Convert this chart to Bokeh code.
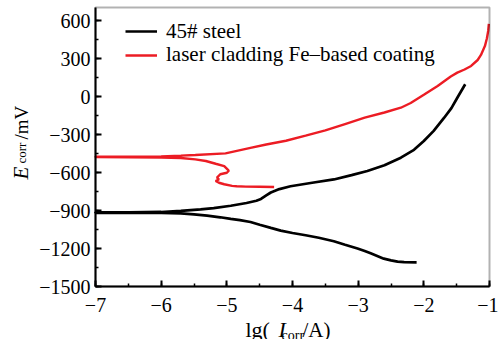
from math import pi
from bokeh.plotting import figure
from bokeh.models import (SingleIntervalTicker, CustomJSTickFormatter, Legend,
                          LegendItem, Label, BoxAnnotation)
from bokeh.embed import file_html
from bokeh.resources import INLINE

# ---- data ----
# 45# steel: cathodic branch (from its end) -> E_corr plateau -> anodic branch
steel_lgI = [-2.11, -2.30, -2.40, -2.50, -2.61, -2.81, -2.90, -3.01, -3.20, -3.37,
             -3.60, -3.80, -4.00, -4.18, -4.33, -4.50, -4.64, -4.80, -4.94, -5.10,
             -5.30, -5.50, -5.70, -6.00, -6.50, -7.00,
             -7.00, -6.50, -6.00, -5.70, -5.40, -5.20, -4.94, -4.70, -4.55, -4.48,
             -4.40, -4.33, -4.20, -4.03, -3.70, -3.37, -3.10, -2.86, -2.60, -2.35,
             -2.15, -2.00, -1.85, -1.69, -1.58, -1.49, -1.37]
steel_E = [-1309, -1308, -1304, -1294, -1280, -1238, -1220, -1200, -1170, -1142,
           -1115, -1095, -1077, -1058, -1037, -1012, -990, -976, -966, -953,
           -940, -930, -922, -919, -918, -918,
           -914, -914, -911, -903, -890, -880, -862, -840, -822, -808,
           -780, -757, -730, -708, -680, -654, -620, -587, -542, -482,
           -420, -350, -270, -166, -90, -8, 98]

# laser cladding Fe-based coating
coat_lgI = [-4.28, -4.50, -4.71, -4.85, -4.92, -5.04, -5.12, -5.17, -5.12, -5.15,
            -5.10, -5.00, -4.97, -4.99, -5.04, -5.17, -5.32, -5.48, -5.70, -6.00,
            -6.50, -7.00,
            -7.00, -6.50, -6.00, -5.70, -5.48, -5.02, -4.64, -4.40, -4.10, -3.80,
            -3.50, -3.20, -2.90, -2.60, -2.35, -2.20, -2.00, -1.79, -1.59, -1.49,
            -1.38, -1.28, -1.18, -1.13, -1.07, -1.04, -1.02, -1.01]
coat_E = [-714, -712, -711, -708, -705, -692, -680, -666, -653, -640,
          -613, -601, -585, -574, -548, -530, -508, -495, -484, -480,
          -478, -477,
          -474, -474, -472, -466, -461, -448, -405, -378, -348, -308,
          -266, -216, -166, -125, -87, -50, 15, 85, 160, 190,
          215, 243, 290, 330, 400, 460, 520, 575]

x_bounds = (-7, -1)        # axis extent of lg(I_corr/A)
y_bounds = (-1500, 705)    # axis extent of E_corr /mV
x_tick_step = 1
y_tick_step = 300
legend_labels = ["45# steel", "laser cladding Fe\u2013based coating"]

FONT = "serif"
W, H = 498, 339
# where the axis box sits on the page (pixels)
BOX_L, BOX_R, BOX_T, BOX_B = 95, 489, 7, 286

kx = (x_bounds[1] - x_bounds[0]) / (BOX_R - BOX_L)
ky = (y_bounds[1] - y_bounds[0]) / (BOX_B - BOX_T)
x_range = (x_bounds[0] - BOX_L * kx, x_bounds[1] + (W - BOX_R) * kx)
y_range = (y_bounds[0] - (H - BOX_B) * ky, y_bounds[1] + BOX_T * ky)

p = figure(width=W, height=H, x_range=x_range, y_range=y_range,
           output_backend="svg", toolbar_location=None, min_border=0)
p.background_fill_color = "white"
p.border_fill_color = "white"
p.outline_line_alpha = 0
p.xgrid.visible = False
p.ygrid.visible = False

fmt = CustomJSTickFormatter(code="return tick < 0 ? '\\u2212' + Math.abs(tick) : '' + tick;")
xa = p.xaxis[0]
ya = p.yaxis[0]
xa.ticker = SingleIntervalTicker(interval=x_tick_step, num_minor_ticks=2)
ya.ticker = SingleIntervalTicker(interval=y_tick_step, num_minor_ticks=2)
xa.bounds = x_bounds
ya.bounds = y_bounds
xa.fixed_location = y_bounds[0]
ya.fixed_location = x_bounds[0]
for ax in (xa, ya):
    ax.formatter = fmt
    ax.axis_line_width = 2
    ax.axis_line_color = "black"
    ax.major_tick_line_width = 2
    ax.minor_tick_line_width = 1.5
    ax.major_tick_in = 6
    ax.major_tick_out = 0
    ax.minor_tick_in = 3
    ax.minor_tick_out = 0
    ax.major_label_text_font = FONT
    ax.major_label_text_font_style = "normal"
    ax.major_label_text_font_size = "20px"
    ax.major_label_text_color = "black"
xa.major_label_standoff = 11
ya.major_label_standoff = 5

# the closed box around the plotting area (top and right sides)
p.add_layout(BoxAnnotation(left=x_bounds[0], right=x_bounds[1],
                           bottom=y_bounds[0], top=y_bounds[1],
                           fill_alpha=0, line_color="black", line_width=2))

steel_r = p.line(steel_lgI, steel_E, line_color="black", line_width=2.7)
coat_r = p.line(coat_lgI, coat_E, line_color="#ec1c24", line_width=2.4)

def add_legend(label, renderer, center_y):
    # one legend entry, whose row is centred at page pixel center_y
    p.add_layout(Legend(items=[LegendItem(label=label, renderers=[renderer])],
                        location=(125, H - (center_y + 15)), padding=0, margin=0,
                        spacing=0, glyph_width=32, glyph_height=20, label_height=20,
                        label_standoff=9, border_line_alpha=0,
                        background_fill_alpha=0, label_text_font=FONT,
                        label_text_font_size="21px", label_text_color="black"))

add_legend(legend_labels[0], steel_r, 28.5)
add_legend(legend_labels[1], coat_r, 52)

def lab(x, y, text, size, style="normal", angle=0):
    # x, y: page pixels from the top-left corner
    p.add_layout(Label(x=x, y=H - y, x_units="screen", y_units="screen",
                       text=text, text_font=FONT,
                       text_font_size=size, text_font_style=style,
                       text_align="left", text_baseline="alphabetic",
                       angle=angle, text_color="black"))

# x axis title: lg(I_corr/A)
lab(245, 329, "lg(", "22px")
lab(278, 329, "I", "22px", "italic")
lab(281, 335, "corr", "14px")
lab(302, 329, "/A)", "21px")
# y axis title: E_corr /mV
lab(20, 179, "E", "21px", "italic", pi / 2)
lab(21, 163, "corr", "13px", "normal", pi / 2)
lab(21, 139, "/mV", "19px", "normal", pi / 2)

open("out.html", "w").write(file_html(p, INLINE))
